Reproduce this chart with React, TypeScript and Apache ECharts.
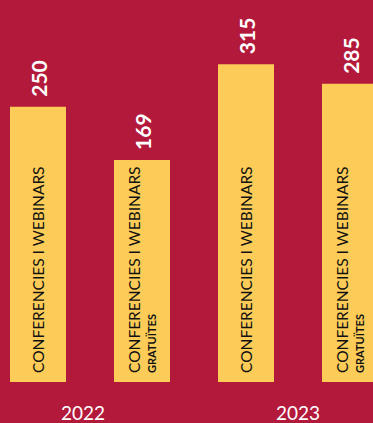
import React, { useEffect, useRef } from "react";
import * as echarts from "echarts";

const categories = ["2022 A", "2022 B", "2023 A", "2023 B"];
const values = [250, 169, 315, 285];
const free = [false, true, false, true];
const years = ["2022", "2023"];
const mainText = "CONFERENCIES I WEBINARS";
const freeText = "GRATUÏTES";

// the bars of the original graphic are measured from a common offset below zero
const baseOffset = 170;
const axisMax = 583;

const BG = "#B3193B";
const BAR = "#FDCC58";

export default function App() {
  const ref = useRef<HTMLDivElement>(null);
  useEffect(() => {
    if (!ref.current) return;
    const chart = echarts.init(ref.current, null, { renderer: "svg" });
    const font = "Lato, 'Open Sans', sans-serif";
    const heights = values.map((v) => v + baseOffset);
    chart.setOption({
      animation: false,
      backgroundColor: BG,
      grid: {
        left: -14,
        width: 416,
        top: 0,
        bottom: 41,
        containLabel: false,
        outerBoundsMode: "none",
      },
      xAxis: [
        { type: "category", data: categories, show: false },
        {
          type: "category",
          data: years,
          position: "bottom",
          axisLine: { show: false },
          axisTick: { show: false },
          axisLabel: {
            margin: 21,
            formatter: (v: string, i: number) => (i === 0 ? `{a|${v}}` : `{b|${v}}`),
            rich: {
              a: { color: "#fff", fontSize: 19, lineHeight: 18, fontFamily: font, padding: [0, 14, 0, 0] },
              b: { color: "#fff", fontSize: 19, lineHeight: 18, fontFamily: font },
            },
          },
        },
      ],
      yAxis: { type: "value", min: 0, max: axisMax, show: false },
      series: [
        {
          type: "bar",
          barWidth: 56,
          data: heights,
          itemStyle: { color: BAR },
          label: {
            show: true,
            position: "insideBottom",
            distance: 9,
            rotate: 90,
            align: "left",
            verticalAlign: "middle",
            formatter: (p: any) =>
              free[p.dataIndex] ? `{m|${mainText}}\n{f|${freeText}}` : `{m|${mainText}}`,
            rich: {
              m: { color: "#111", fontSize: 15.5, fontFamily: font, lineHeight: 18 },
              f: { color: "#111", fontSize: 11, fontWeight: "bold", fontFamily: font, lineHeight: 16 },
            },
          },
          z: 2,
        },
        {
          type: "bar",
          barWidth: 56,
          barGap: "-100%",
          data: heights,
          itemStyle: { color: "rgba(0,0,0,0)" },
          silent: true,
          label: {
            show: true,
            position: "top",
            distance: 10,
            rotate: 90,
            align: "left",
            verticalAlign: "middle",
            color: "#fff",
            fontSize: 21,
            fontWeight: "bold",
            fontFamily: font,
            formatter: (p: any) => String(values[p.dataIndex]),
          },
          z: 3,
        },
      ],
    });
    return () => chart.dispose();
  }, []);
  return <div ref={ref} style={{ width: 373, height: 423, position: "fixed", left: 0, top: 0 }} />;
}
